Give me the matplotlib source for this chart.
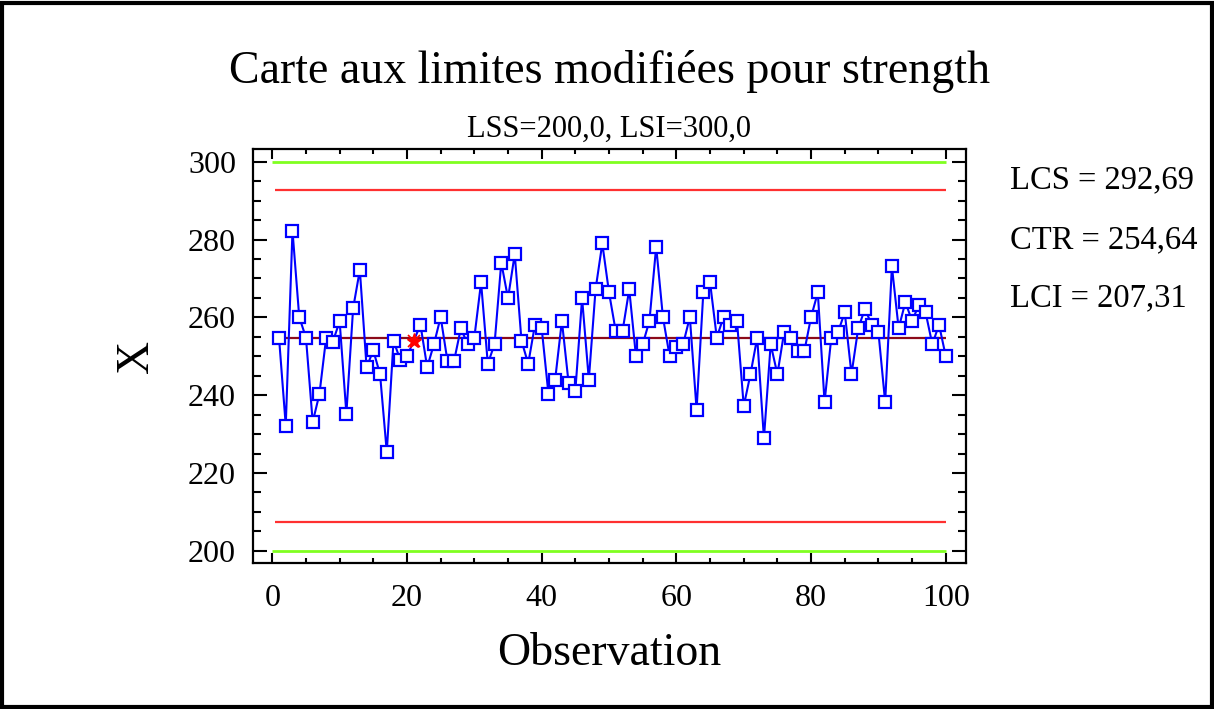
import numpy as np
import matplotlib
matplotlib.use("Agg")
from matplotlib import pyplot as plt
from matplotlib.patches import Rectangle
from matplotlib.ticker import MultipleLocator

strength = [254.8, 232.2, 282.3, 260.1, 254.8, 233.1, 240.3, 254.8, 253.8, 259.0,
            235.3, 262.3, 272.2, 247.2, 251.5, 245.4, 225.4, 254.0, 249.1, 250.0,
            254.0, 258.1, 247.2, 253.1, 260.1, 248.9, 248.9, 257.2, 253.1, 254.8,
            269.0, 248.1, 253.1, 274.1, 264.9, 276.3, 254.0, 248.1, 258.1, 257.2,
            240.4, 244.0, 259.1, 243.1, 241.2, 264.9, 244.0, 267.2, 279.0, 266.4,
            256.4, 256.4, 267.2, 250.0, 253.1, 259.1, 278.2, 260.1, 250.0, 252.3,
            253.1, 260.1, 236.3, 266.4, 269.0, 254.8, 260.1, 258.1, 259.1, 237.2,
            245.4, 254.8, 228.9, 253.1, 245.4, 256.2, 254.8, 251.3, 251.3, 260.1,
            266.4, 238.2, 254.8, 256.2, 261.3, 245.4, 257.2, 262.2, 258.1, 256.2,
            238.2, 273.1, 257.2, 263.9, 259.1, 263.2, 261.3, 253.1, 258.1, 250.0]
obs = np.arange(1, len(strength) + 1)
excluded = [21]

lcs, ctr, lci = 292.69, 254.64, 207.31
lss, lsi = 200.0, 300.0

plt.rcParams['font.family'] = ['Liberation Serif', 'DejaVu Serif']

fig = plt.figure(figsize=(12.14, 7.09), dpi=100)
ax = fig.add_axes([0.2082, 0.2055, 0.5875, 0.5839])

# limites de specification et de controle
ax.hlines([lss, lsi], 0, 100, colors='#80ff20', lw=2)
ax.hlines([lcs, lci], 0.4, 100, colors='#ff3030', lw=1.6)
ax.hlines(ctr, 0, 100, colors='#8b0a1a', lw=1.6)

y = np.array(strength)
ax.plot(obs, y, color='#0000ff', lw=1.5)
keep = ~np.isin(obs, excluded)
ax.plot(obs[keep], y[keep], ls='none', marker='s', ms=9, mfc='white',
        mec='#0000ff', mew=1.6)
ax.plot(obs[~keep], y[~keep], ls='none', marker='*', ms=11, color='red',
        mfc='red')
ax.plot(obs[~keep], y[~keep], ls='none', marker='x', ms=8, color='red', mew=1.2)

ax.set_xlim(-2.9, 103.0)
ax.set_ylim(196.8, 303.2)
ax.xaxis.set_major_locator(MultipleLocator(20))
ax.xaxis.set_minor_locator(MultipleLocator(5))
ax.yaxis.set_major_locator(MultipleLocator(20))
ax.yaxis.set_minor_locator(MultipleLocator(5))
ax.tick_params(axis='x', which='major', direction='in', length=7, width=1.5,
               top=True, labelsize=23, pad=15)
ax.tick_params(axis='x', which='minor', direction='in', length=3.5, width=1.5,
               top=True)
ax.tick_params(axis='y', which='major', direction='in', length=10, width=1.5,
               right=True, labelsize=23, pad=12)
ax.tick_params(axis='y', which='minor', direction='in', length=6, width=1.5,
               right=True)
for sp in ax.spines.values():
    sp.set_linewidth(1.6)

ax.set_xlabel('Observation', fontsize=33, labelpad=14)
ax.set_ylabel('X', fontsize=33, labelpad=22)

fig.text(0.502, 0.899, 'Carte aux limites modifiées pour strength',
         ha='center', va='center', fontsize=33)
fig.text(0.502, 0.818, 'LSS=200,0, LSI=300,0', ha='center', va='center',
         fontsize=22)
fig.text(0.832, 0.746, 'LCS = 292,69', ha='left', va='center', fontsize=23.5)
fig.text(0.832, 0.661, 'CTR = 254,64', ha='left', va='center', fontsize=23.5)
fig.text(0.832, 0.579, 'LCI = 207,31', ha='left', va='center', fontsize=23.5)

fig.patches.append(Rectangle((0.002, 0.003), 0.996, 0.993, transform=fig.transFigure,
                             fill=False, ec='black', lw=3))

fig.savefig('out.png', dpi=100)
